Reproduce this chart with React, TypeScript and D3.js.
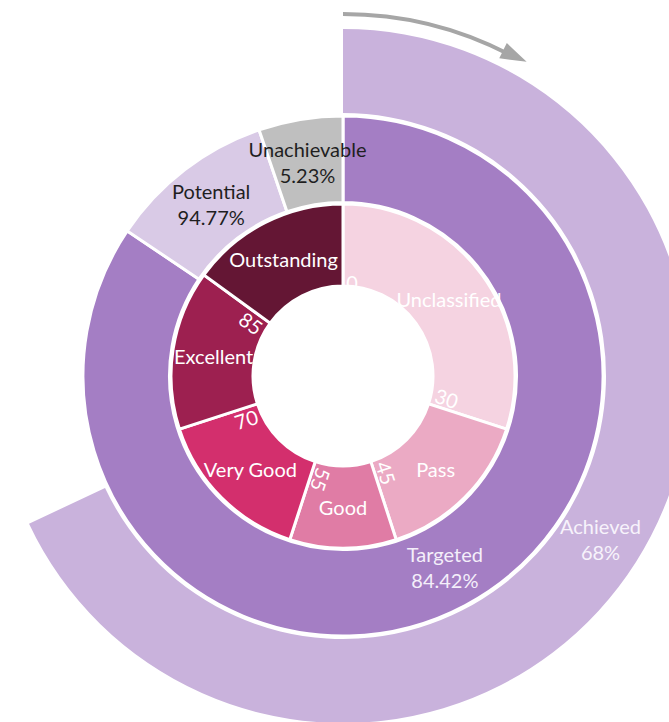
import React from "react";
import * as d3 from "d3";

const innerCategories = ["Unclassified", "Pass", "Good", "Very Good", "Excellent", "Outstanding"];
const innerValues = [30, 15, 10, 15, 15, 15];
const thresholdLabels = ["0", "30", "45", "55", "70", "85"];

const middleCategories = ["Targeted", "Potential", "Unachievable"];
const middleValues = [84.42, 10.35, 5.23];
const middleLabels = ["84.42%", "94.77%", "5.23%"];

const outerCategories = ["Achieved"];
const outerValues = [68];
const outerLabels = ["68%"];

const W = 669;
const H = 722;
const cx = 343;
const cy = 376;

const innerColors = ["#f5d3e1", "#ebaac4", "#e07ca5", "#d32f6d", "#9d2050", "#641634"];
const middleColors = ["#a47ec4", "#d9cae6", "#bfbfbf"];
const middleText = ["#f4effa", "#1f1f1f", "#1f1f1f"];
const outerColor = "#c9b2dc";

const FONT = "Lato, 'Open Sans', sans-serif";
const FS = 20;

export default function App() {
  const angle = d3.scaleLinear().domain([0, 100]).range([0, 2 * Math.PI]);

  const pie = d3.pie<number>().sort(null).value((d) => d).startAngle(0).endAngle(2 * Math.PI);
  const innerArcs = pie(innerValues);
  const middleArcs = pie(middleValues);

  const innerArc = d3.arc<any>().innerRadius(90).outerRadius(172);
  const middleArc = d3.arc<any>().innerRadius(173.5).outerRadius(260);
  const outerArc = d3.arc<any>().innerRadius(263).outerRadius(347);

  const cum = d3.cumsum(innerValues);
  const thresholds = [0, ...Array.from(cum).slice(0, -1)];

  // arrow
  const arrowR = 362;
  const a1 = (27.3 * Math.PI) / 180;
  const pt = (a: number, r: number) => [cx + r * Math.sin(a), cy - r * Math.cos(a)];
  const arrowPath = d3.path();
  arrowPath.arc(cx, cy, arrowR, -Math.PI / 2, a1 - Math.PI / 2);
  const tip = pt((30.3 * Math.PI) / 180, arrowR + 2);
  const baseA = (26.2 * Math.PI) / 180;
  const b1 = pt(baseA, arrowR - 8);
  const b2 = pt(baseA, arrowR + 9);

  const lh = 13;

  return (
    <svg width={W} height={H} style={{ position: "absolute", left: 0, top: 0, background: "#fff" }} fontFamily={FONT}>
      <path d={arrowPath.toString()} fill="none" stroke="#a6a6a6" strokeWidth={4} />
      <polygon points={`${tip[0]},${tip[1]} ${b1[0]},${b1[1]} ${b2[0]},${b2[1]}`} fill="#a6a6a6" />

      <g transform={`translate(${cx},${cy})`}>
        {outerValues.map((v, i) => (
          <path key={"o" + i} d={outerArc({ startAngle: 0, endAngle: angle(v) }) as string} fill={outerColor} />
        ))}
        {middleArcs.map((a, i) => (
          <path key={"m" + i} d={middleArc(a) as string} fill={middleColors[i]} stroke="#fff" strokeWidth={3} />
        ))}
        {innerArcs.map((a, i) => (
          <path key={"i" + i} d={innerArc(a) as string} fill={innerColors[i]} stroke="#fff" strokeWidth={3} />
        ))}

        {innerArcs.map((a, i) => {
          const [x, y] = innerArc.centroid(a);
          return (
            <text key={"il" + i} x={x} y={y} fill="#fff" fontSize={FS} textAnchor="middle" dominantBaseline="central">
              {innerCategories[i]}
            </text>
          );
        })}

        {thresholds.map((t, i) => {
          const deg = (angle(t) * 180) / Math.PI;
          const aDeg = t === 0 ? deg + 5.5 : deg - 6;
          const a = (aDeg * Math.PI) / 180;
          const r = t === 0 ? 94 : 106;
          const x = r * Math.sin(a);
          const y = -r * Math.cos(a);
          const rot = t === 0 ? 0 : deg < 240 ? deg - 90 : deg - 270;
          return (
            <text
              key={"t" + i}
              transform={`translate(${x},${y}) rotate(${rot})`}
              fill="#fff"
              fontSize={FS}
              textAnchor="middle"
              dominantBaseline="central"
            >
              {thresholdLabels[i]}
            </text>
          );
        })}

        {middleArcs.map((a, i) => {
          const [x, y] = middleArc.centroid(a);
          return (
            <text key={"ml" + i} fill={middleText[i]} fontSize={FS} textAnchor="middle">
              <tspan x={x} y={y - lh} dominantBaseline="central">
                {middleCategories[i]}
              </tspan>
              <tspan x={x} y={y + lh} dominantBaseline="central">
                {middleLabels[i]}
              </tspan>
            </text>
          );
        })}

        {outerValues.map((v, i) => {
          const [x, y] = outerArc.centroid({ startAngle: 0, endAngle: angle(v) } as any);
          return (
            <text key={"ol" + i} fill="#f7f3fb" fontSize={FS} textAnchor="middle">
              <tspan x={x} y={y - lh} dominantBaseline="central">
                {outerCategories[i]}
              </tspan>
              <tspan x={x} y={y + lh} dominantBaseline="central">
                {outerLabels[i]}
              </tspan>
            </text>
          );
        })}
      </g>
    </svg>
  );
}
